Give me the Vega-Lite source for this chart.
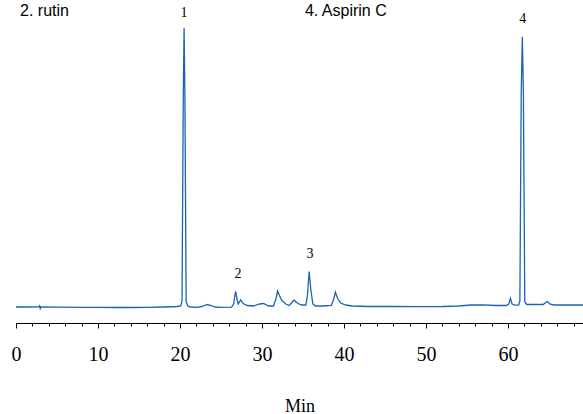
{
  "$schema": "https://vega.github.io/schema/vega-lite/v6.json",
  "width": 567,
  "height": 323,
  "autosize": {"type": "none"},
  "padding": {"left": 16, "top": 0, "right": 0, "bottom": 91},
  "background": "white",
  "config": {"view": {"stroke": null}},
  "datasets": {
    "trace": [
      {"t": 0, "v": 0}, {"t": 1.5, "v": 0}, {"t": 2.8, "v": 0.2}, {"t": 2.88, "v": 1.2}, {"t": 2.96, "v": -1.5}, {"t": 3.05, "v": 0},
      {"t": 5, "v": -0.2}, {"t": 8, "v": -0.3}, {"t": 10, "v": -0.4}, {"t": 12, "v": -0.5}, {"t": 14, "v": -0.5}, {"t": 16, "v": -0.3},
      {"t": 18, "v": 0}, {"t": 19.6, "v": 0.5}, {"t": 20.1, "v": 1}, {"t": 20.25, "v": 6}, {"t": 20.4, "v": 210}, {"t": 20.5, "v": 279},
      {"t": 20.6, "v": 210}, {"t": 20.75, "v": 5}, {"t": 21.0, "v": 0.5}, {"t": 21.3, "v": 0}, {"t": 22, "v": -0.3}, {"t": 22.7, "v": 0.5},
      {"t": 23.3, "v": 2.5}, {"t": 23.8, "v": 1.5}, {"t": 24.3, "v": 0}, {"t": 25, "v": -0.3}, {"t": 26.3, "v": -0.2}, {"t": 26.55, "v": 3},
      {"t": 26.7, "v": 12}, {"t": 26.8, "v": 15.5}, {"t": 26.95, "v": 8}, {"t": 27.1, "v": 3}, {"t": 27.4, "v": 7}, {"t": 27.7, "v": 3.5},
      {"t": 28.2, "v": 1.5}, {"t": 29, "v": 1}, {"t": 29.7, "v": 3}, {"t": 30.2, "v": 3.5}, {"t": 30.8, "v": 1}, {"t": 31.4, "v": 1},
      {"t": 31.7, "v": 8}, {"t": 31.9, "v": 16}, {"t": 32.1, "v": 12}, {"t": 32.4, "v": 7}, {"t": 32.9, "v": 3}, {"t": 33.3, "v": 1.5},
      {"t": 33.6, "v": 4}, {"t": 33.9, "v": 7}, {"t": 34.3, "v": 4}, {"t": 34.8, "v": 2}, {"t": 35.35, "v": 2}, {"t": 35.55, "v": 12},
      {"t": 35.75, "v": 35.5}, {"t": 35.95, "v": 18}, {"t": 36.2, "v": 3}, {"t": 36.5, "v": 1}, {"t": 37.5, "v": 1}, {"t": 38.45, "v": 1.5},
      {"t": 38.75, "v": 8}, {"t": 38.95, "v": 15}, {"t": 39.2, "v": 9}, {"t": 39.6, "v": 4}, {"t": 40.2, "v": 2}, {"t": 41, "v": 1},
      {"t": 43, "v": 0.5}, {"t": 46, "v": 0.5}, {"t": 49, "v": 0.3}, {"t": 52, "v": 0.5}, {"t": 54, "v": 1}, {"t": 55.5, "v": 2},
      {"t": 57, "v": 2.2}, {"t": 58.5, "v": 1.5}, {"t": 59.8, "v": 1.5}, {"t": 60.1, "v": 3}, {"t": 60.3, "v": 8.7}, {"t": 60.5, "v": 3},
      {"t": 60.8, "v": 1.8}, {"t": 61.3, "v": 2}, {"t": 61.45, "v": 6}, {"t": 61.62, "v": 215}, {"t": 61.75, "v": 270}, {"t": 61.88, "v": 215},
      {"t": 62.05, "v": 5}, {"t": 62.3, "v": 2.5}, {"t": 63, "v": 2.5}, {"t": 64.3, "v": 2.5}, {"t": 64.6, "v": 4.5}, {"t": 64.8, "v": 5.5},
      {"t": 65.1, "v": 3}, {"t": 65.6, "v": 2}, {"t": 67, "v": 2}, {"t": 69.15, "v": 2}
    ],
    "peaks": [
      {"t": 20.49, "v": 289.7, "label": "1"},
      {"t": 27.07, "v": 29.3, "label": "2"},
      {"t": 35.85, "v": 48.7, "label": "3"},
      {"t": 61.79, "v": 283.7, "label": "4"}
    ],
    "notes": [
      {"t": 0.49, "v": 291, "label": "2. rutin"},
      {"t": 35.24, "v": 291, "label": "4. Aspirin C"}
    ]
  },
  "encoding": {
    "x": {
      "field": "t", "type": "quantitative",
      "scale": {"domain": [0, 69.15], "nice": false, "zero": false},
      "axis": {
        "title": "Min",
        "titleFont": "Liberation Serif", "titleFontSize": 18, "titleFontWeight": "normal", "titleColor": "black",
        "titlePadding": 33,
        "values": [0,2,4,6,8,10,12,14,16,18,20,22,24,26,28,30,32,34,36,38,40,42,44,46,48,50,52,54,56,58,60,62,64,66,68],
        "labelExpr": "datum.value % 10 === 0 ? datum.label : ''",
        "labelFont": "Liberation Serif", "labelFontSize": 20, "labelColor": "black",
        "labelPadding": 16,
        "labelFlush": false,
        "labelOverlap": false,
        "grid": false,
        "domainColor": "black", "domainWidth": 1,
        "tickColor": "black", "tickWidth": 1,
        "tickSize": {"condition": {"test": "datum.value % 10 === 0", "value": 5}, "value": 3}
      }
    },
    "y": {
      "field": "v", "type": "quantitative",
      "scale": {"domain": [-16, 307], "nice": false, "zero": false},
      "axis": null
    }
  },
  "layer": [
    {
      "data": {"name": "trace"},
      "mark": {"type": "line", "color": "#1c62b5", "strokeWidth": 1.3, "clip": true}
    },
    {
      "data": {"name": "peaks"},
      "mark": {"type": "text", "font": "Liberation Serif", "fontSize": 14, "color": "black", "baseline": "alphabetic", "align": "center"},
      "encoding": {"text": {"field": "label"}}
    },
    {
      "data": {"name": "notes"},
      "mark": {"type": "text", "font": "Liberation Sans", "fontSize": 16, "color": "black", "baseline": "alphabetic", "align": "left"},
      "encoding": {"text": {"field": "label"}}
    }
  ]
}
